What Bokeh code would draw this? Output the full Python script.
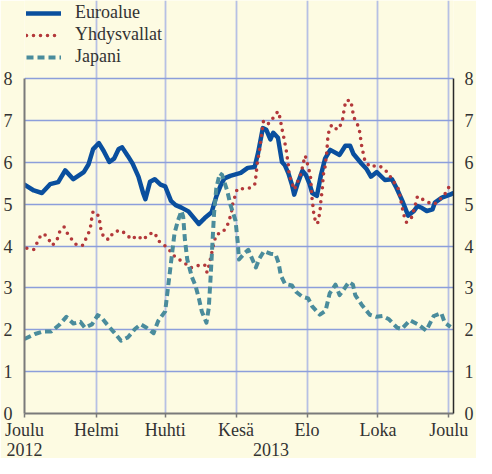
import pandas as pd
from bokeh.plotting import figure
from bokeh.models import (LinearAxis, FixedTicker, Range1d, Legend, LegendItem,
                          ColumnDataSource)
from bokeh.embed import file_html
from bokeh.resources import INLINE

# ---------------- data (days since 2012-12-01, values in %) ----------------
start_date = "2012-12-01"
month_tick_dates = ["2012-12-01", "2013-02-01", "2013-04-01", "2013-06-01",
                    "2013-08-01", "2013-10-01", "2013-12-01"]
month_tick_labels = ["Joulu", "Helmi", "Huhti", "Kesä", "Elo", "Loka", "Joulu"]
year_tick_dates = ["2012-12-01", "2013-07-01"]
year_tick_labels = ["2012", "2013"]

euro_day = [0, 8, 15, 22, 29, 35, 42, 51, 55, 59, 64, 68, 73, 77, 81, 84, 89, 93, 98, 102,
            104, 108, 112, 117, 121, 126, 130, 135, 141, 150, 155, 161, 165, 169, 172, 177,
            186, 192, 198, 201, 205, 208, 211.5, 214, 218, 221.5, 224, 227, 230, 232, 235,
            239, 242, 245, 247.5, 251.5, 255, 258.5, 263, 271, 276, 280, 283, 290, 294, 298,
            303, 310, 316, 320, 325, 330, 335, 338, 342, 346, 351, 353, 359, 366, 368]
euro_val = [5.47, 5.33, 5.27, 5.48, 5.53, 5.81, 5.60, 5.77, 5.95, 6.32, 6.46, 6.28, 6.01, 6.09,
            6.32, 6.36, 6.15, 5.97, 5.66, 5.27, 5.12, 5.54, 5.60, 5.47, 5.43, 5.08, 4.98, 4.92,
            4.83, 4.53, 4.67, 4.81, 5.19, 5.47, 5.62, 5.68, 5.75, 5.87, 5.89, 6.24, 6.82, 6.78,
            6.55, 6.71, 6.59, 6.01, 5.93, 5.74, 5.47, 5.23, 5.50, 5.80, 5.70, 5.50, 5.27, 5.20,
            5.70, 6.09, 6.30, 6.18, 6.40, 6.40, 6.20, 5.97, 5.85, 5.66, 5.77, 5.58, 5.60, 5.39,
            5.08, 4.73, 4.84, 4.96, 4.91, 4.84, 4.88, 5.04, 5.16, 5.23, 5.26]

us_day = [2, 8, 11, 14, 17, 21, 24, 28, 30, 34, 37, 41, 45, 50, 52, 55, 57, 58, 59, 64, 65, 66,
          69, 73, 76, 82, 87, 92, 97, 102, 107, 112, 115, 119, 124, 128, 133, 138, 143, 150,
          155, 157, 159, 163, 165, 170, 174, 176, 178, 179, 183, 188, 194, 198, 199, 200.5,
          202, 203.5, 205.5, 209, 214, 218, 220, 221, 222.5, 225, 226, 227, 227.5, 229.5,
          232.5, 233.5, 236.5, 238.5, 240, 241.5, 244.5, 246, 247, 247.5, 248.5, 249, 252,
          253.5, 254.5, 255, 256, 257, 258.5, 260, 261, 262.5, 264.5, 269, 273, 274, 275,
          276.5, 280.5, 282, 283, 286, 288, 289, 290, 291.5, 293, 298, 302.5, 307, 312, 317.5,
          322, 323.5, 326, 328.5, 333, 335.5, 338, 341, 345, 350.5, 355, 359, 363, 366]
us_val = [3.95, 3.92, 4.09, 4.26, 4.29, 4.15, 4.02, 4.15, 4.33, 4.46, 4.30, 4.15, 4.02, 4.02,
          4.13, 4.30, 4.49, 4.70, 4.83, 4.72, 4.53, 4.34, 4.18, 4.16, 4.32, 4.38, 4.30, 4.16,
          4.25, 4.15, 4.29, 4.32, 4.13, 4.05, 3.93, 3.78, 3.68, 3.59, 3.48, 3.54, 3.55, 3.37,
          3.57, 4.09, 4.28, 4.32, 4.46, 4.61, 4.81, 5.00, 5.37, 5.37, 5.39, 5.47, 5.66, 6.05,
          6.24, 6.59, 6.98, 6.90, 7.07, 7.22, 7.05, 6.86, 6.67, 6.32, 6.12, 5.93, 5.74, 5.53,
          5.35, 5.47, 5.62, 5.81, 6.01, 6.16, 5.85, 5.66, 5.27, 5.08, 4.88, 4.69, 4.53, 4.73,
          4.92, 5.12, 5.31, 5.70, 5.89, 6.24, 6.63, 6.82, 6.90, 6.78, 6.94, 7.09, 7.29, 7.48,
          7.48, 7.29, 7.09, 6.94, 6.78, 6.59, 6.40, 6.20, 6.01, 5.89, 5.93, 5.89, 5.77, 5.54,
          5.35, 5.12, 4.77, 4.57, 4.69, 4.92, 5.19, 5.14, 5.08, 5.00, 5.04, 5.17, 5.29, 5.47]

jp_day = [0, 9, 16, 23, 30, 36, 42, 48, 52, 58, 63, 66, 71, 77, 83, 89, 95, 100, 105, 111, 115,
          121, 123, 125, 127, 129, 132, 135, 136.5, 138, 140, 144, 147, 150, 152.5, 156.5,
          158.5, 160, 161.5, 163, 165, 168, 170, 174.5, 177, 181.5, 183.5, 184.5, 189.5,
          192.5, 199, 202, 206, 211.5, 216, 218.5, 220.5, 224, 230, 233.5, 239, 244, 247.5,
          254, 259, 262.5, 267.5, 271, 275, 279, 282.5, 284.5, 290, 297, 302.5, 308, 313.5,
          320.5, 324.5, 331.5, 338.5, 345.5, 352, 358.5, 361.5, 366.5]
jp_val = [1.78, 1.90, 1.96, 1.96, 2.12, 2.31, 2.15, 2.19, 2.05, 2.13, 2.35, 2.30, 2.13, 1.94,
          1.74, 1.82, 2.02, 2.13, 2.05, 1.92, 2.21, 2.44, 2.91, 3.37, 3.84, 4.30, 4.61, 4.84,
          4.70, 4.15, 3.68, 3.26, 3.06, 2.75, 2.44, 2.17, 2.52, 3.22, 3.99, 4.77, 5.39, 5.74,
          5.70, 5.31, 5.00, 4.61, 4.07, 3.68, 3.84, 3.91, 3.49, 3.70, 3.88, 3.82, 3.80, 3.60,
          3.30, 3.10, 3.06, 2.91, 2.79, 2.75, 2.56, 2.36, 2.46, 2.87, 3.08, 2.83, 2.98, 3.14,
          3.08, 2.83, 2.60, 2.36, 2.31, 2.33, 2.25, 2.05, 2.02, 2.23, 2.13, 1.98, 2.33, 2.40,
          2.17, 2.07]

y_ticks = [0, 1, 2, 3, 4, 5, 6, 7, 8]
series_names = ["Euroalue", "Yhdysvallat", "Japani"]

# ---------------- helpers ----------------
t0 = pd.Timestamp(start_date)


def to_day(d):
    return int((pd.Timestamp(d) - t0).days)


month_ticks = [to_day(d) for d in month_tick_dates]
year_ticks = [to_day(d) for d in year_tick_dates]
y_lo, y_hi = y_ticks[0], y_ticks[-1]

BG = "#fdfbe2"
TXT = "#333333"
FONT = "Liberation Serif"
FS = "18px"

# y range extends above the top tick to leave room for the legend
p = figure(width=476, height=458, output_backend="svg", toolbar_location=None,
           x_range=Range1d(0, 369), y_range=Range1d(y_lo, 9.87),
           background_fill_color=BG, border_fill_color=BG,
           min_border_left=0, min_border_right=0, min_border_top=0, min_border_bottom=0)
p.outline_line_color = None

# grids
p.xgrid.ticker = FixedTicker(ticks=month_ticks[1:])
p.xgrid.bounds = (y_lo, y_hi)
p.xgrid.grid_line_color = "#b6c0e4"
p.xgrid.grid_line_width = 1.8
p.ygrid.ticker = FixedTicker(ticks=y_ticks)
p.ygrid.grid_line_color = "#8c9edb"
p.ygrid.grid_line_width = 1.3

# bottom month axis
xa = p.xaxis[0]
xa.ticker = FixedTicker(ticks=month_ticks)
xa.major_label_overrides = {t: l for t, l in zip(month_ticks, month_tick_labels)}
xa.axis_line_color = "#7a7a7a"
xa.axis_line_width = 2
xa.major_tick_line_color = "#7a7a7a"
xa.major_tick_line_width = 1.5
xa.major_tick_out = 4
xa.major_tick_in = 0
xa.minor_tick_line_color = None
xa.major_label_standoff = 2
xa.major_label_text_font = FONT
xa.major_label_text_font_size = FS
xa.major_label_text_color = TXT

# year axis
ya2 = LinearAxis(ticker=FixedTicker(ticks=year_ticks),
                 major_label_overrides={t: l for t, l in zip(year_ticks, year_tick_labels)})
ya2.axis_line_color = None
ya2.major_tick_line_color = None
ya2.minor_tick_line_color = None
ya2.major_tick_out = 0
ya2.major_tick_in = 0
ya2.major_label_standoff = 0
ya2.major_label_text_font = FONT
ya2.major_label_text_font_size = FS
ya2.major_label_text_color = TXT
p.add_layout(ya2, "below")

# left axis
la = p.yaxis[0]
la.ticker = FixedTicker(ticks=y_ticks)
la.bounds = (y_lo, y_hi)
la.axis_line_color = "#7a7a7a"
la.axis_line_width = 2
la.major_tick_line_color = None
la.minor_tick_line_color = None
la.major_label_standoff = 6
la.major_label_text_font = FONT
la.major_label_text_font_size = FS
la.major_label_text_color = TXT

# right axis
ra = LinearAxis(ticker=FixedTicker(ticks=y_ticks), bounds=(y_lo, y_hi))
ra.axis_line_color = "#2a2a2a"
ra.axis_line_width = 1.5
ra.major_tick_line_color = None
ra.minor_tick_line_color = None
ra.major_label_standoff = 5
ra.major_label_text_font = FONT
ra.major_label_text_font_size = FS
ra.major_label_text_color = TXT
p.add_layout(ra, "right")

# series
src_eu = ColumnDataSource(dict(x=euro_day, y=euro_val))
src_us = ColumnDataSource(dict(x=us_day, y=us_val))
src_jp = ColumnDataSource(dict(x=jp_day, y=jp_val))

r_eu = p.line("x", "y", source=src_eu, line_color="#0a4f9e", line_width=4.5,
              line_join="round", line_cap="round")
r_us = p.line("x", "y", source=src_us, line_color="#b3383a", line_width=3.6,
              line_dash="0 7", line_cap="round", line_join="round")
r_jp = p.line("x", "y", source=src_jp, line_color="#4a8c9c", line_width=4,
              line_dash="7 4", line_join="round")

legend = Legend(items=[LegendItem(label=series_names[0], renderers=[r_eu]),
                       LegendItem(label=series_names[1], renderers=[r_us]),
                       LegendItem(label=series_names[2], renderers=[r_jp])],
                location="top_left", orientation="vertical")
legend.background_fill_alpha = 0
legend.border_line_color = None
legend.label_text_font = FONT
legend.label_text_font_size = FS
legend.label_text_color = TXT
legend.glyph_width = 35
legend.glyph_height = 20
legend.label_height = 20
legend.label_standoff = 14
legend.spacing = 1
legend.padding = 0
legend.margin = 2
p.add_layout(legend, "center")

open("out.html", "w").write(file_html(p, INLINE))
